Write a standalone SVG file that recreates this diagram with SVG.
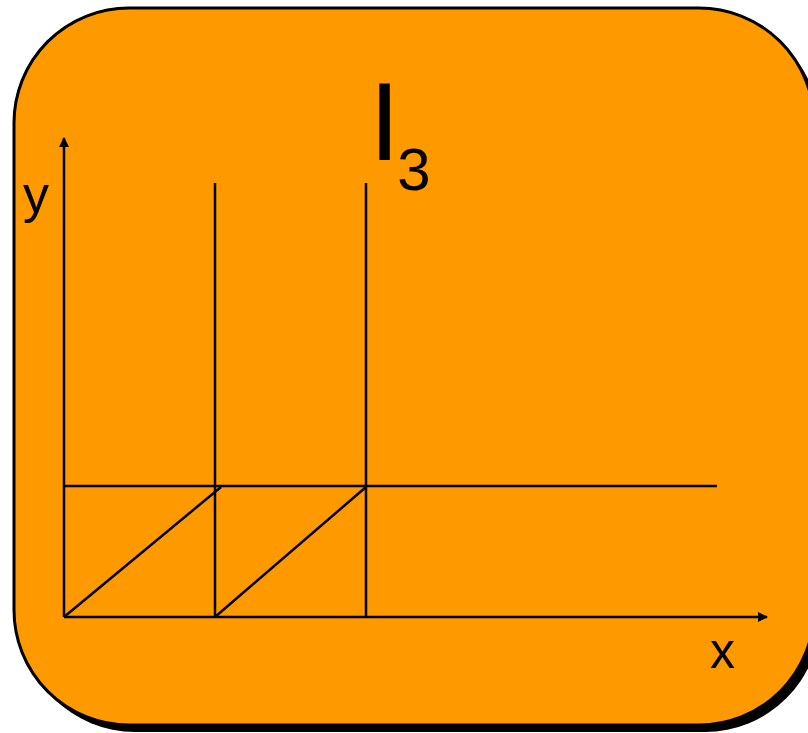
<svg xmlns="http://www.w3.org/2000/svg" width="808" height="733" viewBox="0 0 808 733">
<style>
.ln{stroke:#000;stroke-width:2.5;fill:none}
.lbl{font-family:"Liberation Sans","DejaVu Sans",sans-serif;fill:#000}
</style>
<defs>
<marker id="ah" viewBox="0 0 10 10" refX="9" refY="5" markerWidth="10" markerHeight="10" markerUnits="userSpaceOnUse" orient="auto">
<path d="M0,0 L10,5 L0,10 z" fill="#000"/>
</marker>
</defs>
<g id="frame">
<rect x="20" y="15" width="800" height="717" rx="115" fill="#000"/>
<rect x="14" y="8" width="800" height="717" rx="115" fill="#FF9900" stroke="#000" stroke-width="3"/>
</g>
<g id="title">
<text class="lbl" x="369" y="160" font-size="112">I<tspan dx="-3" dy="30" font-size="60">3</tspan></text>
</g>
<g id="labels">
<text class="lbl" x="23" y="212" font-size="52">y</text>
<text class="lbl" x="710" y="668" font-size="50">x</text>
</g>
<g id="connectors">
<line class="ln" x1="64" y1="617" x2="64" y2="138" marker-end="url(#ah)"/>
<line class="ln" x1="64" y1="617" x2="767" y2="617" marker-end="url(#ah)"/>
<line class="ln" x1="215" y1="183" x2="215" y2="617"/>
<line class="ln" x1="366" y1="183" x2="366" y2="617"/>
<line class="ln" x1="64" y1="486" x2="717" y2="486"/>
<line class="ln" x1="64" y1="617" x2="221" y2="487"/>
<line class="ln" x1="215" y1="617" x2="366" y2="487"/>
</g>
</svg>
